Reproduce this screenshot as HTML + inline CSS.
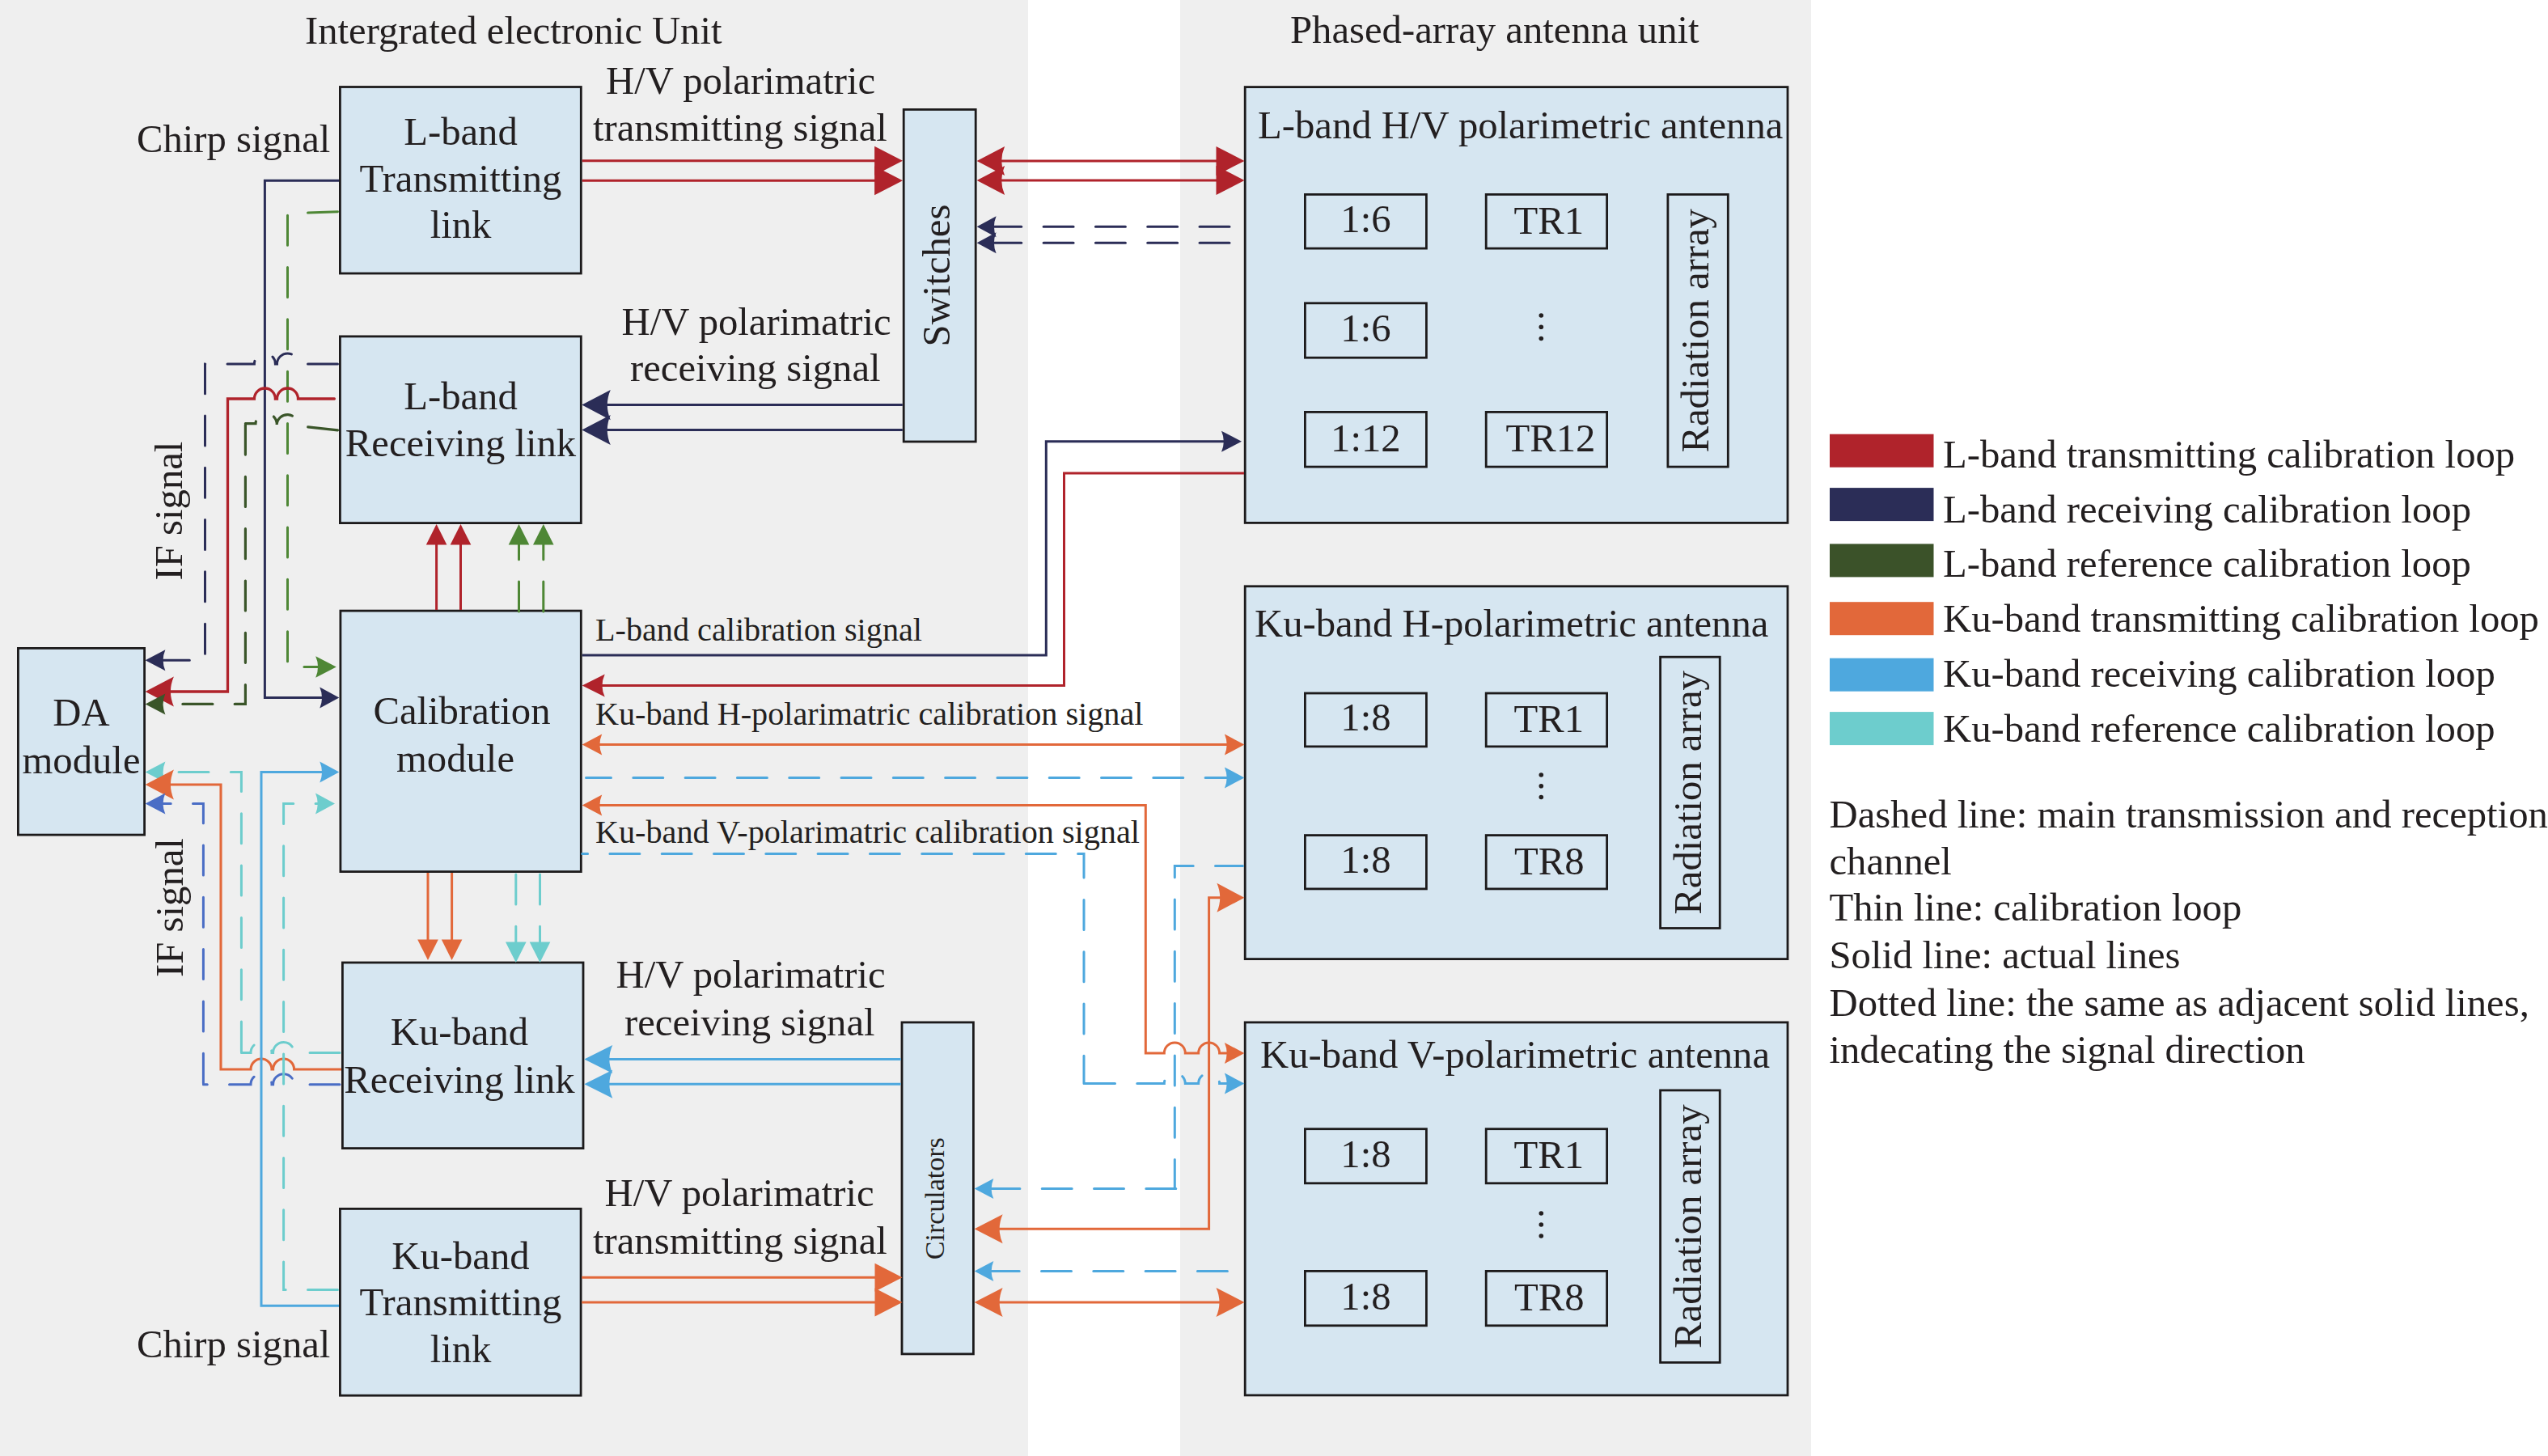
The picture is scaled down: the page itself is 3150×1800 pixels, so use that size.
<!DOCTYPE html><html><head><meta charset="utf-8"><style>html,body{margin:0;padding:0;width:3150px;height:1800px;overflow:hidden;background:#fff}svg{display:block}text{font-family:"Liberation Serif",serif;fill:#231f20}</style></head><body>
<svg width="3150" height="1800" viewBox="0 0 3150 1800">
<rect x="0" y="0" width="3150" height="1800" fill="#ffffff"/>
<rect x="0" y="0" width="1271" height="1800" fill="#efefef"/>
<rect x="1459" y="0" width="780" height="1800" fill="#efefef"/>
<text x="377" y="54" font-size="48.7" text-anchor="start">Intergrated electronic Unit</text>
<text x="1595" y="53" font-size="48.7" text-anchor="start">Phased-array antenna unit</text>
<text x="169" y="188" font-size="48.7" text-anchor="start">Chirp signal</text>
<text x="169" y="1678" font-size="48.7" text-anchor="start">Chirp signal</text>
<rect x="420.40" y="107.50" width="297.90" height="230.50" fill="#d6e6f1" stroke="#1c1a1b" stroke-width="2.8"/>
<rect x="420.40" y="415.90" width="297.90" height="230.70" fill="#d6e6f1" stroke="#1c1a1b" stroke-width="2.8"/>
<rect x="420.90" y="755.10" width="297.40" height="322.50" fill="#d6e6f1" stroke="#1c1a1b" stroke-width="2.8"/>
<rect x="22.40" y="801.40" width="156.20" height="230.70" fill="#d6e6f1" stroke="#1c1a1b" stroke-width="2.8"/>
<rect x="423.40" y="1190.00" width="297.60" height="229.60" fill="#d6e6f1" stroke="#1c1a1b" stroke-width="2.8"/>
<rect x="420.40" y="1494.40" width="297.70" height="230.80" fill="#d6e6f1" stroke="#1c1a1b" stroke-width="2.8"/>
<rect x="1117.20" y="135.40" width="89.00" height="410.60" fill="#d6e6f1" stroke="#1c1a1b" stroke-width="2.8"/>
<rect x="1115.00" y="1263.90" width="88.40" height="410.00" fill="#d6e6f1" stroke="#1c1a1b" stroke-width="2.8"/>
<rect x="1539.20" y="107.60" width="670.80" height="538.80" fill="#d6e6f1" stroke="#1c1a1b" stroke-width="2.8"/>
<rect x="1539.20" y="724.80" width="670.80" height="460.80" fill="#d6e6f1" stroke="#1c1a1b" stroke-width="2.8"/>
<rect x="1539.20" y="1263.90" width="670.80" height="461.00" fill="#d6e6f1" stroke="#1c1a1b" stroke-width="2.8"/>
<path d="M419 223.3 L327.4 223.3 L327.4 862.6 L405 862.6" fill="none" stroke="#2b2d57" stroke-width="3.0" stroke-linejoin="miter" stroke-linecap="butt"/>
<path d="M419.30 862.60 L395.30 849.60 Q400.72 862.60 395.30 875.60 Z" fill="#2b2d57"/>
<path d="M417.5 261.8 L355.5 264 L355.5 824.5 L400 824.5" fill="none" stroke="#4e8735" stroke-width="3.0" stroke-linejoin="miter" stroke-linecap="round" stroke-dasharray="37 27.3" stroke-dashoffset="0"/>
<path d="M415.80 824.50 L390.20 811.30 Q395.99 824.50 390.20 837.70 Z" fill="#4e8735"/>
<path d="M417.5 449.9 L368.50 449.9 A13 13 0 0 0 342.50 449.9 L340.40 449.9 A13 13 0 0 0 314.40 449.9 L253.5 449.9 L253.5 816.3 L195 816.3" fill="none" stroke="#2b2d57" stroke-width="3.0" stroke-linejoin="miter" stroke-linecap="round" stroke-dasharray="37 27.3" stroke-dashoffset="0"/>
<path d="M179.60 816.30 L204.40 803.30 Q198.80 816.30 204.40 829.30 Z" fill="#2b2d57"/>
<path d="M413.4 493 L368.50 493 A13 13 0 0 0 342.50 493 L340.40 493 A13 13 0 0 0 314.40 493 L281.5 493 L281.5 855 L200 855" fill="none" stroke="#b0232b" stroke-width="3.3" stroke-linejoin="miter" stroke-linecap="round"/>
<path d="M179.60 855.00 L214.90 836.60 Q206.92 855.00 214.90 873.40 Z" fill="#b0232b"/>
<path d="M417.5 531.8 L368.5 526.5 A13 13 0 0 0 342.2 525 A13 13 0 0 0 316 523.6 L303.4 523.6" fill="none" stroke="#3a5529" stroke-width="3.2" stroke-linejoin="miter" stroke-linecap="round" stroke-dasharray="37 27.3" stroke-dashoffset="0"/>
<path d="M303.4 525.1 L303.4 870.4 L195 870.4" fill="none" stroke="#3a5529" stroke-width="3.2" stroke-linejoin="miter" stroke-linecap="round" stroke-dasharray="37 27.3" stroke-dashoffset="0"/>
<path d="M179.60 870.40 L204.40 857.40 Q198.80 870.40 204.40 883.40 Z" fill="#3a5529"/>
<path d="M539.6 754 L539.6 670" fill="none" stroke="#b0232b" stroke-width="3.0" stroke-linejoin="miter" stroke-linecap="butt"/>
<path d="M539.60 648.00 L526.80 673.60 L552.40 673.60 Z" fill="#b0232b"/>
<path d="M569.5 754 L569.5 670" fill="none" stroke="#b0232b" stroke-width="3.0" stroke-linejoin="miter" stroke-linecap="butt"/>
<path d="M569.50 648.00 L556.70 673.60 L582.30 673.60 Z" fill="#b0232b"/>
<path d="M641.5 756 L641.5 672" fill="none" stroke="#4e8735" stroke-width="3.0" stroke-linejoin="miter" stroke-linecap="round" stroke-dasharray="37 27.3" stroke-dashoffset="0"/>
<path d="M641.50 648.00 L628.70 673.60 L654.30 673.60 Z" fill="#4e8735"/>
<path d="M671.8 756 L671.8 672" fill="none" stroke="#4e8735" stroke-width="3.0" stroke-linejoin="miter" stroke-linecap="round" stroke-dasharray="37 27.3" stroke-dashoffset="0"/>
<path d="M671.80 648.00 L659.00 673.60 L684.60 673.60 Z" fill="#4e8735"/>
<path d="M719.7 198.7 L1090 198.7" fill="none" stroke="#b0232b" stroke-width="3.0" stroke-linejoin="miter" stroke-linecap="butt"/>
<path d="M1116.00 198.70 L1081.10 180.70 L1081.10 216.70 Z" fill="#b0232b"/>
<path d="M719.7 223.2 L1090 223.2" fill="none" stroke="#b0232b" stroke-width="3.0" stroke-linejoin="miter" stroke-linecap="butt"/>
<path d="M1116.00 223.20 L1081.10 205.20 L1081.10 241.20 Z" fill="#b0232b"/>
<path d="M1235 198.9 L1510 198.9" fill="none" stroke="#b0232b" stroke-width="3.0" stroke-linejoin="miter" stroke-linecap="butt"/>
<path d="M1207.60 198.90 L1242.10 180.90 Q1234.30 198.90 1242.10 216.90 Z" fill="#b0232b"/>
<path d="M1538.50 198.90 L1503.50 180.90 L1503.50 216.90 Z" fill="#b0232b"/>
<path d="M1235 223.0 L1510 223.0" fill="none" stroke="#b0232b" stroke-width="3.0" stroke-linejoin="miter" stroke-linecap="butt"/>
<path d="M1207.60 223.00 L1242.10 205.00 Q1234.30 223.00 1242.10 241.00 Z" fill="#b0232b"/>
<path d="M1538.50 223.00 L1503.50 205.00 L1503.50 241.00 Z" fill="#b0232b"/>
<path d="M1520 280.3 L1225 280.3" fill="none" stroke="#2b2d57" stroke-width="3.0" stroke-linejoin="miter" stroke-linecap="round" stroke-dasharray="37 27.3" stroke-dashoffset="0"/>
<path d="M1207.60 280.30 L1231.60 267.30 Q1226.18 280.30 1231.60 293.30 Z" fill="#2b2d57"/>
<path d="M1520 300.3 L1225 300.3" fill="none" stroke="#2b2d57" stroke-width="3.0" stroke-linejoin="miter" stroke-linecap="round" stroke-dasharray="37 27.3" stroke-dashoffset="0"/>
<path d="M1207.60 300.30 L1231.60 287.30 Q1226.18 300.30 1231.60 313.30 Z" fill="#2b2d57"/>
<path d="M1115.8 500.6 L745 500.6" fill="none" stroke="#2b2d57" stroke-width="3.0" stroke-linejoin="miter" stroke-linecap="butt"/>
<path d="M719.30 500.60 L754.80 482.00 Q746.78 500.60 754.80 519.20 Z" fill="#2b2d57"/>
<path d="M1115.8 531.5 L745 531.5" fill="none" stroke="#2b2d57" stroke-width="3.0" stroke-linejoin="miter" stroke-linecap="butt"/>
<path d="M719.30 531.50 L754.80 512.90 Q746.78 531.50 754.80 550.10 Z" fill="#2b2d57"/>
<path d="M719.7 810 L1293.3 810 L1293.3 545.8 L1515 545.8" fill="none" stroke="#2b2d57" stroke-width="3.0" stroke-linejoin="miter" stroke-linecap="butt"/>
<path d="M1535.00 545.80 L1510.00 532.80 Q1515.65 545.80 1510.00 558.80 Z" fill="#2b2d57"/>
<path d="M1538 585 L1315.5 585 L1315.5 847.6 L740 847.6" fill="none" stroke="#b0232b" stroke-width="3.0" stroke-linejoin="miter" stroke-linecap="butt"/>
<path d="M719.70 847.60 L747.70 833.60 Q741.37 847.60 747.70 861.60 Z" fill="#b0232b"/>
<path d="M740 920.6 L1520 920.6" fill="none" stroke="#e2683a" stroke-width="3.0" stroke-linejoin="miter" stroke-linecap="butt"/>
<path d="M719.70 920.60 L744.20 907.60 Q738.66 920.60 744.20 933.60 Z" fill="#e2683a"/>
<path d="M1538.40 920.60 L1513.90 907.60 Q1519.44 920.60 1513.90 933.60 Z" fill="#e2683a"/>
<path d="M724.5 961.4 L1525 961.4" fill="none" stroke="#4ea8de" stroke-width="3.0" stroke-linejoin="miter" stroke-linecap="round" stroke-dasharray="37 27.3" stroke-dashoffset="6"/>
<path d="M1538.40 961.40 L1513.90 948.40 Q1519.44 961.40 1513.90 974.40 Z" fill="#4ea8de"/>
<path d="M1520 1302 L1507.60 1302 A13 13 0 0 0 1481.60 1302 L1465.30 1302 A13 13 0 0 0 1439.30 1302 L1416.3 1302 L1416.3 995.6 L740 995.6" fill="none" stroke="#e2683a" stroke-width="3.0" stroke-linejoin="miter" stroke-linecap="butt"/>
<path d="M719.70 995.60 L744.20 982.60 Q738.66 995.60 744.20 1008.60 Z" fill="#e2683a"/>
<path d="M1538.40 1302.00 L1513.90 1289.00 Q1519.44 1302.00 1513.90 1315.00 Z" fill="#e2683a"/>
<path d="M719.7 1055.5 L1340 1055.5 L1340 1339.6" fill="none" stroke="#4ea8de" stroke-width="3.0" stroke-linejoin="miter" stroke-linecap="round" stroke-dasharray="37 27.3" stroke-dashoffset="30.1"/>
<path d="M1341.5 1339.6 L1439.30 1339.6 A13 13 0 0 1 1465.30 1339.6 L1481.60 1339.6 A13 13 0 0 1 1507.60 1339.6 L1525 1339.6" fill="none" stroke="#4ea8de" stroke-width="3.0" stroke-linejoin="miter" stroke-linecap="round" stroke-dasharray="37 27.3" stroke-dashoffset="0"/>
<path d="M1538.40 1339.60 L1513.90 1326.60 Q1519.44 1339.60 1513.90 1352.60 Z" fill="#4ea8de"/>
<path d="M1536.5 1070.6 L1452.3 1070.6 L1452.3 1469.5" fill="none" stroke="#4ea8de" stroke-width="3.0" stroke-linejoin="miter" stroke-linecap="round" stroke-dasharray="37 27.3" stroke-dashoffset="3"/>
<path d="M1453.8 1469.5 L1220 1469.5" fill="none" stroke="#4ea8de" stroke-width="3.0" stroke-linejoin="miter" stroke-linecap="round" stroke-dasharray="37 27.3" stroke-dashoffset="0"/>
<path d="M1204.60 1469.50 L1228.30 1456.90 Q1222.94 1469.50 1228.30 1482.10 Z" fill="#4ea8de"/>
<path d="M1225 1519.3 L1494.6 1519.3 L1494.6 1109.8 L1510 1109.8" fill="none" stroke="#e2683a" stroke-width="3.0" stroke-linejoin="miter" stroke-linecap="butt"/>
<path d="M1204.60 1519.30 L1239.60 1501.30 Q1231.69 1519.30 1239.60 1537.30 Z" fill="#e2683a"/>
<path d="M1538.40 1109.80 L1504.40 1091.80 Q1512.08 1109.80 1504.40 1127.80 Z" fill="#e2683a"/>
<path d="M1517.4 1571.5 L1220 1571.5" fill="none" stroke="#4ea8de" stroke-width="3.0" stroke-linejoin="miter" stroke-linecap="round" stroke-dasharray="37 27.3" stroke-dashoffset="0"/>
<path d="M1204.60 1571.50 L1228.30 1558.90 Q1222.94 1571.50 1228.30 1584.10 Z" fill="#4ea8de"/>
<path d="M1225 1610 L1515 1610" fill="none" stroke="#e2683a" stroke-width="3.0" stroke-linejoin="miter" stroke-linecap="butt"/>
<path d="M1204.60 1610.00 L1239.60 1592.00 Q1231.69 1610.00 1239.60 1628.00 Z" fill="#e2683a"/>
<path d="M1538.50 1610.00 L1503.50 1592.00 Q1511.41 1610.00 1503.50 1628.00 Z" fill="#e2683a"/>
<path d="M719.2 1579.2 L1090 1579.2" fill="none" stroke="#e2683a" stroke-width="3.0" stroke-linejoin="miter" stroke-linecap="butt"/>
<path d="M1115.50 1579.20 L1081.50 1561.70 L1081.50 1596.70 Z" fill="#e2683a"/>
<path d="M719.2 1610.1 L1090 1610.1" fill="none" stroke="#e2683a" stroke-width="3.0" stroke-linejoin="miter" stroke-linecap="butt"/>
<path d="M1115.50 1610.10 L1081.50 1592.60 L1081.50 1627.60 Z" fill="#e2683a"/>
<path d="M1113.6 1309.4 L750 1309.4" fill="none" stroke="#4ea8de" stroke-width="3.0" stroke-linejoin="miter" stroke-linecap="butt"/>
<path d="M722.30 1309.40 L757.30 1291.90 Q749.39 1309.40 757.30 1326.90 Z" fill="#4ea8de"/>
<path d="M1113.6 1340.3 L750 1340.3" fill="none" stroke="#4ea8de" stroke-width="3.0" stroke-linejoin="miter" stroke-linecap="butt"/>
<path d="M722.30 1340.30 L757.30 1322.80 Q749.39 1340.30 757.30 1357.80 Z" fill="#4ea8de"/>
<path d="M420 1301.5 L363.60 1301.5 A13 13 0 0 0 337.60 1301.5 L336.00 1301.5 A13 13 0 0 0 310.00 1301.5 L298.4 1301.5" fill="none" stroke="#6dcdcd" stroke-width="3.0" stroke-linejoin="miter" stroke-linecap="round" stroke-dasharray="37 27.3" stroke-dashoffset="0"/>
<path d="M298.4 1300 L298.4 954.6 L195 954.6" fill="none" stroke="#6dcdcd" stroke-width="3.0" stroke-linejoin="miter" stroke-linecap="round" stroke-dasharray="37 27.3" stroke-dashoffset="0"/>
<path d="M179.60 954.60 L204.40 941.60 Q198.80 954.60 204.40 967.60 Z" fill="#6dcdcd"/>
<path d="M422 1322 L363.60 1322 A13 13 0 0 0 337.60 1322 L336.00 1322 A13 13 0 0 0 310.00 1322 L273 1322 L273 970 L200 970" fill="none" stroke="#e2683a" stroke-width="3.1" stroke-linejoin="miter" stroke-linecap="butt"/>
<path d="M179.60 970.00 L214.90 951.60 Q206.92 970.00 214.90 988.40 Z" fill="#e2683a"/>
<path d="M420 1340.7 L363.60 1340.7 A13 13 0 0 0 337.60 1340.7 L336.00 1340.7 A13 13 0 0 0 310.00 1340.7 L251.4 1340.7" fill="none" stroke="#4a6dc5" stroke-width="3.0" stroke-linejoin="miter" stroke-linecap="round" stroke-dasharray="37 27.3" stroke-dashoffset="0"/>
<path d="M251.4 1339.2 L251.4 993.6 L195 993.6" fill="none" stroke="#4a6dc5" stroke-width="3.0" stroke-linejoin="miter" stroke-linecap="round" stroke-dasharray="37 27.3" stroke-dashoffset="0"/>
<path d="M179.60 993.60 L204.40 980.60 Q198.80 993.60 204.40 1006.60 Z" fill="#4a6dc5"/>
<path d="M419 1614.3 L323 1614.3 L323 954.6 L405 954.6" fill="none" stroke="#4ea8de" stroke-width="3.0" stroke-linejoin="miter" stroke-linecap="butt"/>
<path d="M419.30 954.60 L395.30 941.60 Q400.72 954.60 395.30 967.60 Z" fill="#4ea8de"/>
<path d="M417.5 1594.5 L350.6 1594.5 L350.6 993.6 L400 993.6" fill="none" stroke="#6dcdcd" stroke-width="3.0" stroke-linejoin="miter" stroke-linecap="round" stroke-dasharray="37 27.3" stroke-dashoffset="0"/>
<path d="M414.00 993.60 L390.00 980.60 Q395.42 993.60 390.00 1006.60 Z" fill="#6dcdcd"/>
<path d="M529 1079 L529 1165" fill="none" stroke="#e2683a" stroke-width="3.0" stroke-linejoin="miter" stroke-linecap="butt"/>
<path d="M529.00 1187.00 L516.20 1161.50 L541.80 1161.50 Z" fill="#e2683a"/>
<path d="M558.6 1079 L558.6 1165" fill="none" stroke="#e2683a" stroke-width="3.0" stroke-linejoin="miter" stroke-linecap="butt"/>
<path d="M558.60 1187.00 L545.80 1161.50 L571.40 1161.50 Z" fill="#e2683a"/>
<path d="M637.8 1081 L637.8 1170" fill="none" stroke="#6dcdcd" stroke-width="3.0" stroke-linejoin="miter" stroke-linecap="round" stroke-dasharray="37 27.3" stroke-dashoffset="0"/>
<path d="M637.80 1190.00 L625.00 1164.50 L650.60 1164.50 Z" fill="#6dcdcd"/>
<path d="M667.5 1081 L667.5 1170" fill="none" stroke="#6dcdcd" stroke-width="3.0" stroke-linejoin="miter" stroke-linecap="round" stroke-dasharray="37 27.3" stroke-dashoffset="0"/>
<path d="M667.50 1190.00 L654.70 1164.50 L680.30 1164.50 Z" fill="#6dcdcd"/>
<text x="569.5" y="178.7" font-size="48.7" text-anchor="middle">L-band</text>
<text x="569.5" y="236.5" font-size="48.7" text-anchor="middle">Transmitting</text>
<text x="569.5" y="293.7" font-size="48.7" text-anchor="middle">link</text>
<text x="569.5" y="505.7" font-size="48.7" text-anchor="middle">L-band</text>
<text x="569.5" y="563.8" font-size="48.7" text-anchor="middle">Receiving link</text>
<text x="571.0" y="895" font-size="48.7" text-anchor="middle">Calibration</text>
<text x="563.0" y="954" font-size="48.7" text-anchor="middle">module</text>
<text x="100.5" y="896.8" font-size="48.7" text-anchor="middle">DA</text>
<text x="100.5" y="955.6" font-size="48.7" text-anchor="middle">module</text>
<text x="568" y="1292" font-size="48.7" text-anchor="middle">Ku-band</text>
<text x="568" y="1351" font-size="48.7" text-anchor="middle">Receiving link</text>
<text x="569.5" y="1568.5" font-size="48.7" text-anchor="middle">Ku-band</text>
<text x="569.5" y="1626" font-size="48.7" text-anchor="middle">Transmitting</text>
<text x="569.5" y="1684" font-size="48.7" text-anchor="middle">link</text>
<text x="749" y="115.8" font-size="48.7" text-anchor="start">H/V polarimatric</text>
<text x="733" y="173.6" font-size="48.7" text-anchor="start">transmitting signal</text>
<text x="768.5" y="414" font-size="48.7" text-anchor="start">H/V polarimatric</text>
<text x="779" y="471" font-size="48.7" text-anchor="start">receiving signal</text>
<text x="761.5" y="1221" font-size="48.7" text-anchor="start">H/V polarimatric</text>
<text x="772" y="1279.7" font-size="48.7" text-anchor="start">receiving signal</text>
<text x="747.5" y="1491" font-size="48.7" text-anchor="start">H/V polarimatric</text>
<text x="733" y="1549.9" font-size="48.7" text-anchor="start">transmitting signal</text>
<text x="736" y="791.6" font-size="40.2" text-anchor="start">L-band calibration signal</text>
<text x="736" y="895.5" font-size="40.2" text-anchor="start">Ku-band H-polarimatric calibration signal</text>
<text x="736" y="1041.8" font-size="40.2" text-anchor="start">Ku-band V-polarimatric calibration signal</text>
<text x="1174" y="340.5" font-size="48.7" text-anchor="middle" transform="rotate(-90 1174 340.5)">Switches</text>
<text x="1167" y="1481.7" font-size="34" text-anchor="middle" transform="rotate(-90 1167 1481.7)">Circulators</text>
<text x="224.5" y="631.5" font-size="48.7" text-anchor="middle" transform="rotate(-90 224.5 631.5)">IF signal</text>
<text x="226" y="1122" font-size="48.7" text-anchor="middle" transform="rotate(-90 226 1122)">IF signal</text>
<text x="1555" y="170.7" font-size="48.7" text-anchor="start">L-band H/V polarimetric antenna</text>
<text x="1551" y="786.9" font-size="48.7" text-anchor="start">Ku-band H-polarimetric antenna</text>
<text x="1558" y="1320.2" font-size="48.7" text-anchor="start">Ku-band V-polarimetric antenna</text>
<rect x="1613.40" y="240.40" width="150.00" height="66.70" fill="#d6e6f1" stroke="#1c1a1b" stroke-width="2.8"/>
<text x="1688.4" y="287.25" font-size="48.7" text-anchor="middle">1:6</text>
<rect x="1613.40" y="374.80" width="150.00" height="67.40" fill="#d6e6f1" stroke="#1c1a1b" stroke-width="2.8"/>
<text x="1688.4" y="422.0" font-size="48.7" text-anchor="middle">1:6</text>
<rect x="1613.40" y="509.40" width="150.00" height="67.70" fill="#d6e6f1" stroke="#1c1a1b" stroke-width="2.8"/>
<text x="1688.4" y="557.75" font-size="48.7" text-anchor="middle">1:12</text>
<rect x="1837.20" y="240.40" width="149.40" height="66.70" fill="#d6e6f1" stroke="#1c1a1b" stroke-width="2.8"/>
<text x="1914.9" y="288.75" font-size="48.7" text-anchor="middle">TR1</text>
<rect x="1837.20" y="509.40" width="149.40" height="67.70" fill="#d6e6f1" stroke="#1c1a1b" stroke-width="2.8"/>
<text x="1916.9" y="558.25" font-size="48.7" text-anchor="middle">TR12</text>
<rect x="2061.90" y="240.40" width="74.40" height="336.70" fill="#d6e6f1" stroke="#1c1a1b" stroke-width="2.8"/>
<text x="2112.5" y="408.8" font-size="48.7" text-anchor="middle" transform="rotate(-90 2112.5 408.8)">Radiation array</text>
<rect x="1613.40" y="857.00" width="150.00" height="65.90" fill="#d6e6f1" stroke="#1c1a1b" stroke-width="2.8"/>
<text x="1688.4" y="903.45" font-size="48.7" text-anchor="middle">1:8</text>
<rect x="1613.40" y="1032.60" width="150.00" height="66.30" fill="#d6e6f1" stroke="#1c1a1b" stroke-width="2.8"/>
<text x="1688.4" y="1079.25" font-size="48.7" text-anchor="middle">1:8</text>
<rect x="1837.20" y="857.00" width="149.40" height="65.90" fill="#d6e6f1" stroke="#1c1a1b" stroke-width="2.8"/>
<text x="1914.9" y="904.95" font-size="48.7" text-anchor="middle">TR1</text>
<rect x="1837.20" y="1032.60" width="149.40" height="66.30" fill="#d6e6f1" stroke="#1c1a1b" stroke-width="2.8"/>
<text x="1915.4" y="1080.75" font-size="48.7" text-anchor="middle">TR8</text>
<rect x="2052.60" y="812.20" width="73.60" height="335.30" fill="#d6e6f1" stroke="#1c1a1b" stroke-width="2.8"/>
<text x="2103" y="979.9" font-size="48.7" text-anchor="middle" transform="rotate(-90 2103 979.9)">Radiation array</text>
<rect x="1613.40" y="1395.70" width="150.00" height="67.10" fill="#d6e6f1" stroke="#1c1a1b" stroke-width="2.8"/>
<text x="1688.4" y="1442.75" font-size="48.7" text-anchor="middle">1:8</text>
<rect x="1613.40" y="1571.40" width="150.00" height="67.40" fill="#d6e6f1" stroke="#1c1a1b" stroke-width="2.8"/>
<text x="1688.4" y="1618.6" font-size="48.7" text-anchor="middle">1:8</text>
<rect x="1837.20" y="1395.70" width="149.40" height="67.10" fill="#d6e6f1" stroke="#1c1a1b" stroke-width="2.8"/>
<text x="1914.9" y="1444.25" font-size="48.7" text-anchor="middle">TR1</text>
<rect x="1837.20" y="1571.40" width="149.40" height="67.40" fill="#d6e6f1" stroke="#1c1a1b" stroke-width="2.8"/>
<text x="1915.4" y="1620.1" font-size="48.7" text-anchor="middle">TR8</text>
<rect x="2052.60" y="1347.90" width="73.60" height="336.50" fill="#d6e6f1" stroke="#1c1a1b" stroke-width="2.8"/>
<text x="2103" y="1516.2" font-size="48.7" text-anchor="middle" transform="rotate(-90 2103 1516.2)">Radiation array</text>
<circle cx="1905.3" cy="390.0" r="2.8" fill="#231f20"/>
<circle cx="1905.3" cy="404.2" r="2.8" fill="#231f20"/>
<circle cx="1905.3" cy="418.5" r="2.8" fill="#231f20"/>
<circle cx="1905.3" cy="958.0" r="2.8" fill="#231f20"/>
<circle cx="1905.3" cy="971.8" r="2.8" fill="#231f20"/>
<circle cx="1905.3" cy="985.5" r="2.8" fill="#231f20"/>
<circle cx="1905.3" cy="1500.0" r="2.8" fill="#231f20"/>
<circle cx="1905.3" cy="1514.0" r="2.8" fill="#231f20"/>
<circle cx="1905.3" cy="1528.0" r="2.8" fill="#231f20"/>
<rect x="2262" y="536.7" width="128.5" height="41" fill="#b0232b"/>
<text x="2402" y="577.7" font-size="48.7" text-anchor="start">L-band transmitting calibration loop</text>
<rect x="2262" y="603.1" width="128.5" height="41" fill="#2b2d57"/>
<text x="2402" y="646.1" font-size="48.7" text-anchor="start">L-band receiving calibration loop</text>
<rect x="2262" y="672.4" width="128.5" height="41" fill="#3b5229"/>
<text x="2402" y="712.7" font-size="48.7" text-anchor="start">L-band reference calibration loop</text>
<rect x="2262" y="744.2" width="128.5" height="41" fill="#e2683a"/>
<text x="2402" y="781.1" font-size="48.7" text-anchor="start">Ku-band transmitting calibration loop</text>
<rect x="2262" y="813.7" width="128.5" height="41" fill="#4ea8de"/>
<text x="2402" y="848.9" font-size="48.7" text-anchor="start">Ku-band receiving calibration loop</text>
<rect x="2262" y="880.1" width="128.5" height="41" fill="#6dcdcd"/>
<text x="2402" y="917.3" font-size="48.7" text-anchor="start">Ku-band reference calibration loop</text>
<text x="2261.5" y="1022.7" font-size="48.7" text-anchor="start">Dashed line: main transmission and reception</text>
<text x="2261.5" y="1081.2" font-size="48.7" text-anchor="start">channel</text>
<text x="2261.5" y="1138.3" font-size="48.7" text-anchor="start">Thin line: calibration loop</text>
<text x="2261.5" y="1196.8" font-size="48.7" text-anchor="start">Solid line: actual lines</text>
<text x="2261.5" y="1255.7" font-size="48.7" text-anchor="start">Dotted line: the same as adjacent solid lines,</text>
<text x="2261.5" y="1313.5" font-size="48.7" text-anchor="start">indecating the signal direction</text>
</svg></body></html>
